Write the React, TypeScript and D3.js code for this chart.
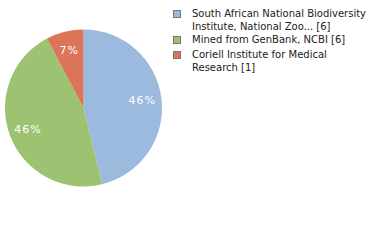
import React from "react";
import * as d3 from "d3";

const labels = [
  ["South African National Biodiversity", "Institute, National Zoo... [6]"],
  ["Mined from GenBank, NCBI [6]"],
  ["Coriell Institute for Medical", "Research [1]"],
];
const counts = [6, 6, 1];
const colors = ["#9cb9de", "#9dc272", "#dc7459"];

const cx = 83.5;
const cy = 108;
const radius = 78.5;

export default function App() {
  const total = d3.sum(counts);
  const pie = d3.pie<number>().value(d => d).sort(null);
  const arcs = pie(counts);
  const arc = d3.arc<d3.PieArcDatum<number>>().innerRadius(0).outerRadius(radius);
  const labelArc = d3.arc<d3.PieArcDatum<number>>().innerRadius(radius * 0.755).outerRadius(radius * 0.755);
  const fmt = (v: number) => Math.floor((v / total) * 100) + "%";

  const legendTops = [9, 35, 50];

  return (
    <svg width={380} height={240} style={{ position: "absolute", left: 0, top: 0 }}>
      <g transform={`translate(${cx},${cy})`}>
        {arcs.map((a, i) => (
          <path key={i} d={arc(a) || ""} fill={colors[i]} />
        ))}
        {arcs.map((a, i) => {
          const [x, y] = labelArc.centroid(a);
          return (
            <text key={"t" + i} x={x} y={y} fill="#fff" fontSize={11} fontFamily="DejaVu Sans"
              textAnchor="middle" dominantBaseline="central" letterSpacing={1}>
              {fmt(a.value)}
            </text>
          );
        })}
      </g>
      <g fontFamily="DejaVu Sans" fontSize={10} fill="#222">
        {labels.map((lines, i) => (
          <g key={i}>
            <rect x={173.5} y={legendTops[i] + 1.5} width={7} height={7} fill={colors[i]} stroke="#777" strokeWidth={1} />
            {lines.map((l, j) => (
              <text key={j} x={192} y={legendTops[i] + 8 + j * 12.5}>{l}</text>
            ))}
          </g>
        ))}
      </g>
    </svg>
  );
}
